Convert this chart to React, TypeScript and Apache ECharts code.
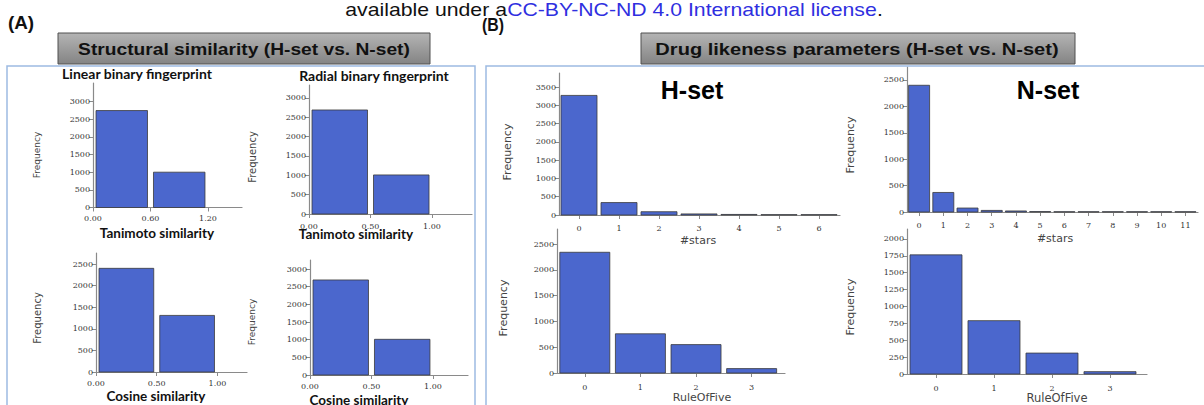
import React, { useEffect, useRef } from "react";
import * as echarts from "echarts";

// ---------- DATA ----------
const tanimotoLinearBins = [[0, 0.6], [0.6, 1.2]];
const tanimotoLinearFreq = [2745, 1000];
const tanimotoRadialBins = [[0, 0.5], [0.5, 1.0]];
const tanimotoRadialFreq = [2690, 1010];
const cosineLinearBins = [[0, 0.5], [0.5, 1.0]];
const cosineLinearFreq = [2400, 1310];
const cosineRadialBins = [[0, 0.5], [0.5, 1.0]];
const cosineRadialFreq = [2690, 1010];

const starsHCats = ["0", "1", "2", "3", "4", "5", "6"];
const starsHFreq = [3270, 340, 90, 30, 15, 10, 10];
const starsNCats = ["0", "1", "2", "3", "4", "5", "6", "7", "8", "9", "10", "11"];
const starsNFreq = [2400, 370, 75, 30, 20, 8, 5, 5, 5, 5, 5, 5];
const ro5Cats = ["0", "1", "2", "3"];
const ro5HFreq = [2340, 760, 550, 85];
const ro5NFreq = [1765, 790, 310, 35];

const yTicks3000 = [0, 500, 1000, 1500, 2000, 2500, 3000];
const yTicks2500 = [0, 500, 1000, 1500, 2000, 2500];
const yTicks3500 = [0, 500, 1000, 1500, 2000, 2500, 3000, 3500];
const yTicks2000 = [0, 250, 500, 750, 1000, 1250, 1500, 1750, 2000];
const xTicksLinear = [0, 0.6, 1.2];
const xTicksHalf = [0, 0.5, 1.0];

// ---------- STYLE ----------
const BAR = "#4b67cd";
const BAR_EDGE = "#3a3a3a";
const AXIS = "#8a8a8a";
const TICK_FONT = '"DejaVu Serif", serif';
const LABEL_FONT = '"DejaVu Sans", sans-serif';
const TITLE_FONT = 'Lato, "Open Sans", sans-serif';
const ARIAL = '"Liberation Sans", Arial, sans-serif';

type Panel = {
  l: number; r: number; top: number; base: number;
  xMin: number; xMax: number; yMax: number;
  xTicks: number[]; xFmt: (v: number) => string;
  yTicks: number[]; xMargin: number; inset: number;
  data: number[][];
};

const histData = (bins: number[][], freq: number[]) => bins.map((b, i) => [b[0], b[1], freq[i]]);
const catData = (cats: string[], freq: number[]) => cats.map((_, i) => [i - 0.5, i + 0.5, freq[i]]);

export default function App() {
  const ref = useRef<HTMLDivElement>(null);
  useEffect(() => {
    if (!ref.current) return;
    const chart = echarts.init(ref.current, undefined, { renderer: "svg" });

    const fmt2 = (v: number) => v.toFixed(2);
    const fmtCat = (cats: string[]) => (v: number) => cats[Math.round(v)] ?? "";

    const panels: Panel[] = [
      { l: 93, r: 242, top: 83, base: 207.5, xMin: 0, xMax: 1.555, yMax: 3525, xTicks: xTicksLinear, xFmt: fmt2, yTicks: yTicks3000, xMargin: 7, inset: 3, data: histData(tanimotoLinearBins, tanimotoLinearFreq) },
      { l: 309, r: 472, top: 85, base: 214, xMin: 0, xMax: 1.325, yMax: 3336, xTicks: xTicksHalf, xFmt: fmt2, yTicks: yTicks3000, xMargin: 8, inset: 3, data: histData(tanimotoRadialBins, tanimotoRadialFreq) },
      { l: 96, r: 247, top: 253, base: 372, xMin: 0, xMax: 1.243, yMax: 2755, xTicks: xTicksHalf, xFmt: fmt2, yTicks: yTicks2500, xMargin: 7, inset: 3, data: histData(cosineLinearBins, cosineLinearFreq) },
      { l: 310, r: 468, top: 260, base: 375, xMin: 0, xMax: 1.285, yMax: 3255, xTicks: xTicksHalf, xFmt: fmt2, yTicks: yTicks3000, xMargin: 7, inset: 3, data: histData(cosineRadialBins, cosineRadialFreq) },
      { l: 559, r: 840, top: 73, base: 215, xMin: -0.5, xMax: 6.525, yMax: 3883, xTicks: starsHCats.map((_, i) => i), xFmt: fmtCat(starsHCats), yTicks: yTicks3500, xMargin: 9, inset: 2, data: catData(starsHCats, starsHFreq) },
      { l: 907, r: 1198, top: 67, base: 212, xMin: -0.5, xMax: 11.52, yMax: 2746, xTicks: starsNCats.map((_, i) => i), xFmt: fmtCat(starsNCats), yTicks: yTicks2500, xMargin: 9, inset: 1.6, data: catData(starsNCats, starsNFreq) },
      { l: 557, r: 785, top: 229, base: 373, xMin: -0.5, xMax: 3.6, yMax: 2791, xTicks: ro5Cats.map((_, i) => i), xFmt: fmtCat(ro5Cats), yTicks: yTicks2500, xMargin: 10, inset: 2.8, data: catData(ro5Cats, ro5HFreq) },
      { l: 907, r: 1147, top: 229, base: 374, xMin: -0.5, xMax: 3.638, yMax: 2148, xTicks: ro5Cats.map((_, i) => i), xFmt: fmtCat(ro5Cats), yTicks: yTicks2000, xMargin: 10, inset: 3, data: catData(ro5Cats, ro5NFreq) },
    ];

    const grid = panels.map((p) => ({ left: p.l, top: p.top, width: p.r - p.l, height: p.base - p.top, outerBoundsMode: "none" }));
    const xAxis = panels.map((p, i) => ({
      type: "value", gridIndex: i, min: p.xMin, max: p.xMax,
      axisLine: { show: true, onZero: false, lineStyle: { color: AXIS, width: 1.2 } },
      axisTick: { show: true, length: 4, customValues: p.xTicks, lineStyle: { color: AXIS } },
      axisLabel: { customValues: p.xTicks, formatter: p.xFmt, fontFamily: TICK_FONT, fontSize: 8, color: "#333", margin: p.xMargin },
      splitLine: { show: false },
    }));
    const yAxis = panels.map((p, i) => ({
      type: "value", gridIndex: i, min: 0, max: p.yMax,
      axisLine: { show: true, onZero: false, lineStyle: { color: AXIS, width: 1.2 } },
      axisTick: { show: true, length: 4, customValues: p.yTicks, lineStyle: { color: AXIS } },
      axisLabel: { customValues: p.yTicks, formatter: (v: number) => String(Math.round(v)), fontFamily: TICK_FONT, fontSize: 8, color: "#333", margin: 3 },
      splitLine: { show: false },
    }));
    const series = panels.map((p, i) => ({
      type: "custom", xAxisIndex: i, yAxisIndex: i,
      encode: { x: [0, 1], y: 2 },
      data: p.data,
      renderItem: (_params: any, api: any) => {
        const a = api.coord([api.value(0), api.value(2)]);
        const b = api.coord([api.value(1), 0]);
        return {
          type: "rect",
          shape: { x: a[0] + p.inset, y: a[1], width: b[0] - a[0] - 2 * p.inset, height: b[1] - a[1] },
          style: { fill: BAR, stroke: BAR_EDGE, lineWidth: 0.8 },
        };
      },
    }));

    const txt = (x: number, y: number, text: string, font: string, size: number, opts: any = {}) => ({
      type: "text", x, y, rotation: opts.rotation ?? 0, scaleX: opts.scaleX ?? 1,
      style: { text, fontFamily: font, fontSize: size, fontWeight: opts.weight ?? "normal", fill: opts.color ?? "#222", align: "center", verticalAlign: "middle" },
      z: 10,
    });
    const freq = (x: number, y: number, size: number) => txt(x, y, "Frequency", LABEL_FONT, size, { rotation: Math.PI / 2, color: "#444" });

    const headerGrad = () => new echarts.graphic.LinearGradient(0, 0, 0, 1, [
      { offset: 0, color: "#b4b4b4" },
      { offset: 1, color: "#848484" },
    ]);

    const graphic: any[] = [
      // panel borders
      { type: "rect", shape: { x: 7, y: 66, width: 468, height: 360 }, style: { fill: "none", stroke: "#9dbbe2", lineWidth: 1.5 }, z: 1 },
      { type: "rect", shape: { x: 486, y: 66, width: 740, height: 360 }, style: { fill: "none", stroke: "#9dbbe2", lineWidth: 1.5 }, z: 1 },
      // headers
      { type: "rect", shape: { x: 58, y: 33, width: 372, height: 31 }, style: { fill: headerGrad(), stroke: "#505050", lineWidth: 1 }, z: 5 },
      { type: "rect", shape: { x: 641, y: 33, width: 434, height: 31 }, style: { fill: headerGrad(), stroke: "#505050", lineWidth: 1 }, z: 5 },
      txt(244, 49, "Structural similarity (H-set vs. N-set)", ARIAL, 17, { weight: "bold", color: "#111", scaleX: 1.13 }),
      txt(857, 49, "Drug likeness parameters (H-set vs. N-set)", ARIAL, 17, { weight: "bold", color: "#111", scaleX: 1.18 }),
      // top line
      {
        type: "text", x: 614, y: 10, scaleX: 1.18, z: 10,
        style: {
          text: "{a|available under a}{b|CC-BY-NC-ND 4.0 International license}{a|.}",
          align: "center", verticalAlign: "middle",
          rich: {
            a: { fontFamily: ARIAL, fontSize: 18, fill: "#111" },
            b: { fontFamily: ARIAL, fontSize: 18, fill: "#2f2fe0" },
          },
        },
      },
      txt(21, 23, "(A)", ARIAL, 18, { weight: "bold", color: "#111", scaleX: 1.05 }),
      txt(493, 25, "(B)", ARIAL, 18, { weight: "bold", color: "#111", scaleX: 0.88 }),
      // A titles
      txt(137, 73, "Linear binary fingerprint", TITLE_FONT, 14, { weight: "bold", color: "#111" }),
      txt(374, 75, "Radial binary fingerprint", TITLE_FONT, 14, { weight: "bold", color: "#111" }),
      txt(157, 233, "Tanimoto similarity", TITLE_FONT, 13.5, { weight: "bold", color: "#111" }),
      txt(356, 234, "Tanimoto similarity", TITLE_FONT, 13.5, { weight: "bold", color: "#111" }),
      txt(156, 396, "Cosine similarity", TITLE_FONT, 13.5, { weight: "bold", color: "#111" }),
      txt(359, 400, "Cosine similarity", TITLE_FONT, 13.5, { weight: "bold", color: "#111" }),
      freq(37, 155, 9), freq(252, 157, 10), freq(37, 318, 10), freq(252, 322, 9),
      freq(507, 152, 11), freq(850, 145, 11), freq(503, 308, 11), freq(850, 307, 11),
      // B titles
      txt(692, 90, "H-set", ARIAL, 25, { weight: "bold", color: "#000" }),
      txt(1048, 90, "N-set", ARIAL, 25, { weight: "bold", color: "#000" }),
      txt(698, 240, "#stars", LABEL_FONT, 11, { color: "#444" }),
      txt(1055, 238, "#stars", LABEL_FONT, 11, { color: "#444" }),
      txt(702, 397, "RuleOfFive", LABEL_FONT, 11, { color: "#444" }),
      txt(1057, 398, "RuleOfFive", LABEL_FONT, 11.5, { color: "#444" }),
    ];

    chart.setOption({
      animation: false,
      backgroundColor: "#ffffff",
      grid, xAxis, yAxis, series, graphic,
    } as any);
    return () => chart.dispose();
  }, []);
  return <div ref={ref} style={{ position: "fixed", left: 0, top: 0, width: 1204, height: 405 }} />;
}
